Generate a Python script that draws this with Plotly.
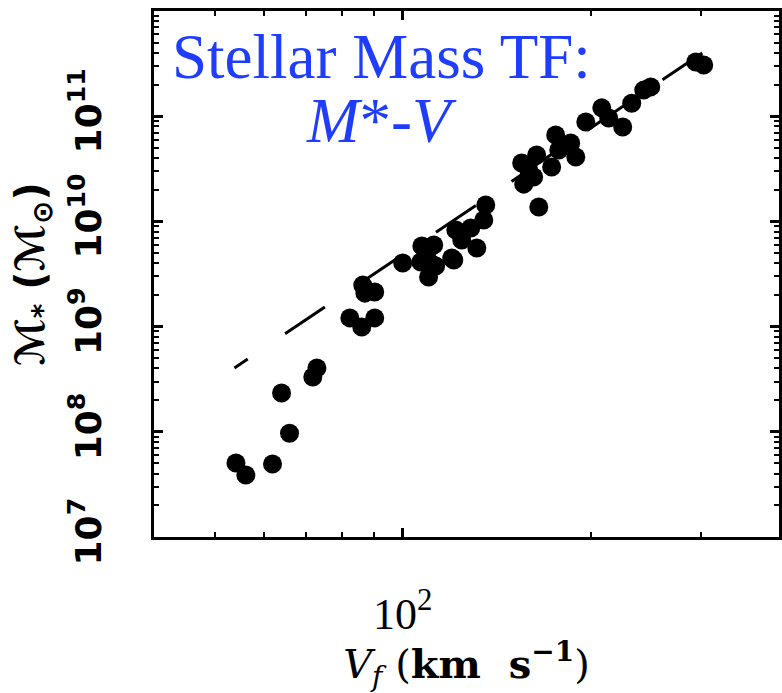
import numpy as np
import plotly.graph_objects as go

# ---- data ----
vel = [54.1, 56.1, 61.9, 65.9, 64.0, 71.8, 72.9, 82.3, 86.0, 90.2,
       86.3, 90.2, 87.0, 100.0, 107.3, 112.1, 106.9, 111.3, 110.0, 119.8,
       109.2, 112.9, 121.6, 128.5, 124.3, 131.4, 134.8, 135.8, 120.7, 165.1,
       155.0, 163.8, 162.0, 156.2, 173.1, 175.7, 185.7, 189.2, 177.7, 196.3,
       208.2, 213.6, 224.9, 232.5, 243.0, 249.4, 294.3, 303.1, 159.1]
mstar = [5.05e7, 3.88e7, 4.94e7, 9.7e7, 2.34e8, 3.32e8, 4.04e8, 1.21e9, 9.9e8, 1.21e9,
         2.48e9, 2.13e9, 2.08e9, 4.03e9, 5.84e9, 5.97e9, 4.11e9, 3.94e9, 2.96e9, 4.49e9,
         4.9e9, 3.77e9, 8.28e9, 8.66e9, 6.65e9, 5.58e9, 1.03e10, 1.43e10, 4.3e9, 1.37e10,
         3.59e10, 4.28e10, 2.64e10, 2.26e10, 3.29e10, 6.62e10, 5.56e10, 4.1e10, 4.78e10, 8.81e10,
         1.2e11, 9.62e10, 7.89e10, 1.33e11, 1.77e11, 1.9e11, 3.27e11, 3.07e11, 3.08e10]

fit_slope = 4.0
fit_intercept = 1.684          # log10 M = slope*log10 V + intercept
fit_vrange = [53.8, 304.0]

x_tickvals = [100]
x_ticktext = ["10<sup>2</sup>"]
x_minor = [40, 50, 60, 70, 80, 90, 200, 300, 400]
y_tickvals = [1e7, 1e8, 1e9, 1e10, 1e11]
y_ticktext = ["10<sup>7</sup>", "10<sup>8</sup>", "10<sup>9</sup>", "10<sup>10</sup>", "10<sup>11</sup>"]
y_minor = [m * 10 ** e for e in range(7, 12) for m in range(2, 10)]

line_v = np.array(fit_vrange)
line_m = 10 ** (fit_slope * np.log10(line_v) + fit_intercept)

SERIF = "Times New Roman, Liberation Serif, serif"

fig = go.Figure()
fig.add_trace(go.Scatter(
    x=line_v, y=line_m, mode="lines",
    line=dict(color="black", width=3,
              dash="16px,45px,48px,43px,48px,43px,48px,43px,48px,43px,48px,43px,48px,43px"),
    hoverinfo="skip", showlegend=False))
fig.add_trace(go.Scatter(
    x=vel, y=mstar, mode="markers",
    marker=dict(color="black", size=19, line=dict(width=0)),
    showlegend=False))

axis_common = dict(
    showline=True, linewidth=3, linecolor="black", mirror="ticks",
    ticks="inside", tickwidth=3, tickcolor="black", showgrid=False, zeroline=False,
    automargin=False,
)

fig.update_xaxes(
    type="log", range=[np.log10(40), np.log10(400)],
    tickmode="array", tickvals=x_tickvals, ticktext=x_ticktext, ticklen=9,
    minor=dict(tickmode="array", tickvals=x_minor, ticks="inside", ticklen=5,
               tickwidth=2, tickcolor="black", showgrid=False),
    tickfont=dict(family=SERIF, size=44, color="black"),
    ticklabelstandoff=36,
    title=dict(text="<i>V<sub>f</sub></i> (<b>km  s<sup>−1</sup></b>)",
               font=dict(family="DejaVu Serif", size=40, color="black"), standoff=22),
    **axis_common)

fig.update_yaxes(
    type="log", range=[7, 12],
    tickmode="array", tickvals=y_tickvals, ticktext=y_ticktext, ticklen=9,
    minor=dict(tickmode="array", tickvals=y_minor, ticks="inside", ticklen=5,
               tickwidth=2, tickcolor="black", showgrid=False),
    tickangle=-90,
    tickfont=dict(family="DejaVu Sans", size=36, color="black", weight="bold"),
    ticklabelstandoff=36,
    title=dict(text="ℳ<sub>*</sub> (ℳ<sub>⊙</sub>)",
               font=dict(family="DejaVu Sans", size=40, color="black", weight="bold"), standoff=6),
    **axis_common)

blue = "#1f3dff"
fig.add_annotation(text="Stellar Mass TF:", xref="x domain", yref="y domain",
                   x=0.3632, y=0.912, xanchor="center", yanchor="middle", showarrow=False,
                   font=dict(family=SERIF, size=63, color=blue))
fig.add_annotation(text="<i>M</i>*-<i>V</i>", xref="x domain", yref="y domain",
                   x=0.3632, y=0.79, xanchor="center", yanchor="middle", showarrow=False,
                   font=dict(family=SERIF, size=63, color=blue))

fig.update_layout(
    width=782, height=693,
    margin=dict(l=154, r=3, t=11, b=156),
    paper_bgcolor="white", plot_bgcolor="white",
)

fig.write_html("out.html")
